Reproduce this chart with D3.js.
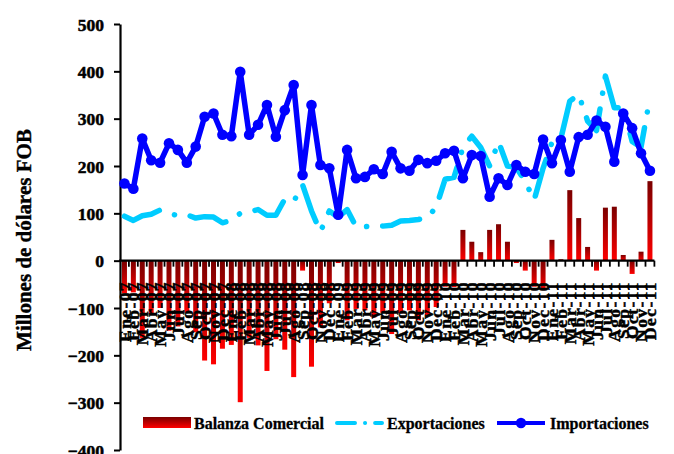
<!DOCTYPE html>
<html><head><meta charset="utf-8">
<script src="https://cdn.jsdelivr.net/npm/d3@7"></script>
<style>body{margin:0;background:#fff} svg{display:block}</style>
</head><body>
<svg id="c" width="674" height="454"></svg>
<script>
const categories = [
 "Ene-07","Feb-07","Mar-07","Abr-07","May-07","Jun-07","Jul-07","Ago-07","Sep-07","Oct-07","Nov-07","Dec-07",
 "Ene-08","Feb-08","Mar-08","Abr-08","May-08","Jun-08","Jul-08","Ago-08","Sep-08","Oct-08","Nov-08","Dec-08",
 "Ene-09","Feb-09","Mar-09","Abr-09","May-09","Jun-09","Jul-09","Ago-09","Sep-09","Oct-09","Nov-09","Dec-09",
 "Ene-10","Feb-10","Mar-10","Abr-10","May-10","Jun-10","Jul-10","Ago-10","Sep-10","Oct-10","Nov-10","Dec-10",
 "Ene-11","Feb-11","Mar-11","Abr-11","May-11","Jun-11","Jul-11","Ago-11","Sep-11","Oct-11","Nov-11","Dec-11"];
const balanza = [-69,-67,-163,-114,-100,-148,-139,-110,-151,-211,
 -219,-186,-178,-299,-163,-179,-233,-166,-188,-246,
 -21,-224,-141,-90,-5,-126,-102,-105,-120,-110,
 -155,-111,-105,-126,-115,-98,-55,-56,65,40,
 18,65,77,40,-5,-21,-55,-61,44,3,
 149,90,29,-21,112,114,12,-28,19,168];
const exportaciones = [94,85,95,98,107,100,95,97,90,93,
 92,80,85,100,103,108,96,96,130,125,
 160,105,61,105,92,108,72,72,73,73,
 75,84,85,87,91,113,172,176,239,263,
 239,200,251,200,197,167,128,195,250,258,
 337,351,295,275,390,323,323,252,240,345];
const importaciones = [163,152,258,212,207,248,234,207,241,304,
 311,266,263,399,266,287,329,262,318,371,
 181,329,202,195,97,234,174,177,193,183,
 230,195,190,213,206,211,227,232,174,223,
 221,135,174,160,202,188,183,256,206,255,
 188,261,266,296,283,209,311,280,227,190];
const yTicks = [500,400,300,200,100,0,-100,-200,-300,-400];
const seriesNames = ["Balanza Comercial","Exportaciones","Importaciones"];
const yTitle = "Millones de dólares FOB";

const FONT = "'Liberation Serif','Times New Roman',serif";
const svg = d3.select("#c");
const x = d3.scaleBand().domain(categories).range([120, 654.4]).padding(0);
const y = d3.scaleLinear().domain([-400, 500]).range([450, 24]);
const bw = x.bandwidth();
const cx = c => x(c) + bw / 2;

const defs = svg.append("defs");
const g = defs.append("linearGradient").attr("id","gb").attr("x1",0).attr("y1",0).attr("x2",0).attr("y2",1);
g.append("stop").attr("offset","0%").attr("stop-color","#7a0000");
g.append("stop").attr("offset","100%").attr("stop-color","#ff0000");

// bars
const barW = 5;
svg.append("g").selectAll("rect").data(categories).join("rect")
  .attr("x", c => cx(c) - barW/2)
  .attr("width", barW)
  .attr("y", (c,i) => y(Math.max(0, balanza[i])))
  .attr("height", (c,i) => Math.abs(y(balanza[i]) - y(0)))
  .attr("fill", "url(#gb)");

// y axis
const ya = svg.append("g").attr("transform","translate(120,0)")
  .call(d3.axisLeft(y).tickValues(yTicks).tickSize(6).tickSizeOuter(0).tickPadding(10).tickFormat(d3.format("d")));
ya.select(".domain").attr("stroke","#000").attr("stroke-width",2.2);
ya.selectAll(".tick line").attr("stroke","#000").attr("stroke-width",2);
ya.selectAll(".tick text").attr("font-family",FONT).attr("font-weight","bold").attr("font-size","17.5px")
  .attr("fill","#000").attr("stroke","#000").attr("stroke-width",0.5).attr("dy","0.35em");

// x axis at zero
const y0 = y(0);
const xa = svg.append("g");
xa.append("line").attr("x1",119).attr("x2",x.range()[1]).attr("y1",y0).attr("y2",y0).attr("stroke","#000").attr("stroke-width",2.4);
const bounds = categories.map(c => x(c)).concat([x.range()[1]]);
xa.selectAll("line.t").data(bounds.slice(1)).join("line").attr("class","t")
  .attr("x1",d=>d).attr("x2",d=>d).attr("y1",y0).attr("y2",y0+6).attr("stroke","#000").attr("stroke-width",1.8);

// x labels
svg.append("g").selectAll("text").data(categories).join("text")
  .attr("transform", c => `translate(${cx(c)},281) rotate(-90)`)
  .attr("text-anchor","end").attr("dy","0.35em")
  .attr("font-family",FONT).attr("font-weight","bold").attr("font-size","17.5px").attr("letter-spacing","1.4px")
  .attr("fill","#000").attr("stroke","#000").attr("stroke-width",0.5).text(c => c);

// lines
const line = d3.line().x((d,i) => cx(categories[i])).y(d => y(d));
svg.append("path").datum(exportaciones).attr("d", line)
  .attr("fill","none").attr("stroke","#00ccff").attr("stroke-width",5.5)
  .attr("stroke-linecap","round").attr("stroke-linejoin","round")
  .attr("stroke-dasharray","38,16,0.1,16");
svg.append("path").datum(importaciones).attr("d", line)
  .attr("fill","none").attr("stroke","#0000ff").attr("stroke-width",5.5).attr("stroke-linejoin","round");
svg.append("g").selectAll("circle").data(importaciones).join("circle")
  .attr("cx",(d,i)=>cx(categories[i])).attr("cy",d=>y(d)).attr("r",5.3).attr("fill","#0000ff");

// y title
svg.append("text").attr("transform","translate(24,240) rotate(-90)")
  .attr("text-anchor","middle").attr("dy","0.35em")
  .attr("font-family",FONT).attr("font-weight","bold").attr("font-size","21px").attr("fill","#000")
  .attr("stroke","#000").attr("stroke-width",0.4)
  .text(yTitle);

// legend
const lg = svg.append("g");
const ly = 423;
lg.append("rect").attr("x",143).attr("y",417).attr("width",48).attr("height",11).attr("fill","url(#gb)");
lg.append("text").attr("x",194).attr("y",428.5).text(seriesNames[0]);
lg.append("line").attr("x1",337).attr("x2",382).attr("y1",ly).attr("y2",ly)
  .attr("stroke","#00ccff").attr("stroke-width",4).attr("stroke-linecap","round").attr("stroke-dasharray","18,10,0.1,10");
lg.append("text").attr("x",387).attr("y",428.5).text(seriesNames[1]);
lg.append("line").attr("x1",497).attr("x2",545).attr("y1",ly).attr("y2",ly).attr("stroke","#0000ff").attr("stroke-width",4);
lg.append("circle").attr("cx",521).attr("cy",ly).attr("r",5.2).attr("fill","#0000ff");
lg.append("text").attr("x",550).attr("y",428.5).text(seriesNames[2]);
lg.selectAll("text").attr("font-family",FONT).attr("font-weight","bold").attr("font-size","16px").attr("fill","#000")
  .attr("stroke","#000").attr("stroke-width",0.3);
</script>
</body></html>
